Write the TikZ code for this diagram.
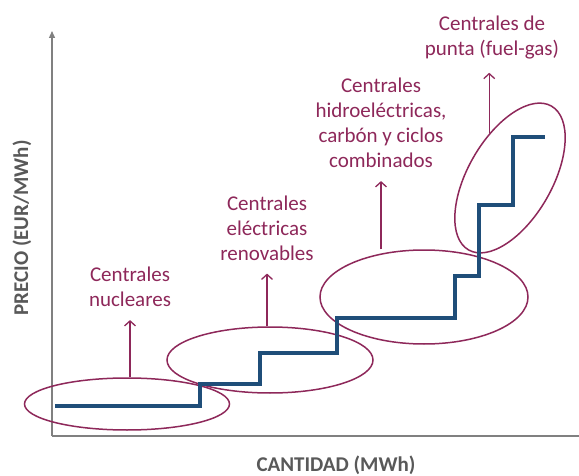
\documentclass[tikz,border=0pt]{standalone}
\usepackage{fontspec}
\setmainfont{Carlito}
\usetikzlibrary{shapes.geometric,arrows.meta}
\definecolor{plum}{RGB}{142,40,90}
\definecolor{steel}{RGB}{31,78,121}
\definecolor{axisgray}{RGB}{128,128,128}
\definecolor{textgray}{RGB}{89,89,89}

\begin{document}
\begin{tikzpicture}[x=1pt,y=1pt,
                  grupo/.style={draw=plum, line width=1.5pt, ellipse, inner sep=0pt},
                  etiqueta/.style={text=plum, align=center, inner sep=1pt,
                              font=\fontsize{21}{25}\selectfont},
                  flecha/.style={draw=plum, line width=1.3pt,
                              -{Straight Barb[length=5pt,width=11pt,line width=1.3pt]},
                              shorten >=12pt},
                  eje/.style={draw=axisgray, line width=1.3pt},
                  rotulo/.style={text=textgray, font=\fontsize{21}{25}\selectfont\bfseries}]
            \useasboundingbox (0,0) rectangle (579,475);
            \fill[white] (0,0) rectangle (579,475);
            % ejes
            \coordinate (o) at (52,39);
            \coordinate (ytop) at (52,444);
            \coordinate (xend) at (579,39);
            \draw[eje, -{Triangle[length=7pt,width=6pt]}] (o) -- (ytop);
            \draw[eje] (o) -- (xend);
            \node[rotulo, rotate=90] (precio) at (22,247) {PRECIO (EUR/MWh)};
            \node[rotulo] (cantidad) at (336,10) {CANTIDAD (MWh)};
            % grupos de centrales
            \node[grupo, minimum width=205pt, minimum height=52pt] (nucl) at (127,71) {};
            \node[grupo, minimum width=206pt, minimum height=66pt] (renov) at (270,115) {};
            \node[grupo, minimum width=208pt, minimum height=94pt] (hidro) at (424,178) {};
            \node[grupo, minimum width=166pt, minimum height=84pt, rotate=60] (punta) at (510,297) {};
            % curva de oferta
            \draw[steel, line width=3.4pt]
                  (55,69) -- (200,69) -- (200,91) -- (260,91) -- (260,122) -- (337,122)
                  -- (337,157) -- (455,157) -- (455,199) -- (479,199) -- (479,270)
                  -- (513,270) -- (513,338) -- (545,338);
            \node[etiqueta] (tnucl) at (130,188) {Centrales\\nucleares};
            \node[etiqueta] (trenov) at (267,247) {Centrales\\eléctricas\\renovables};
            \node[etiqueta] (thidro) at (381,352) {Centrales\\hidroeléctricas,\\carbón y ciclos\\combinados};
            \node[etiqueta] (tpunta) at (492,437) {Centrales de\\punta (fuel-gas)};
            \draw[flecha] (nucl.north -| tnucl.south) -- (tnucl.south);
            \draw[flecha] (renov.north -| trenov.south) -- (trenov.south);
            \draw[flecha] (hidro.north -| thidro.south) -- (thidro.south);
            \draw[flecha] (punta.55) -- (punta.55 |- tpunta.south);
      \end{tikzpicture}
\end{document}
